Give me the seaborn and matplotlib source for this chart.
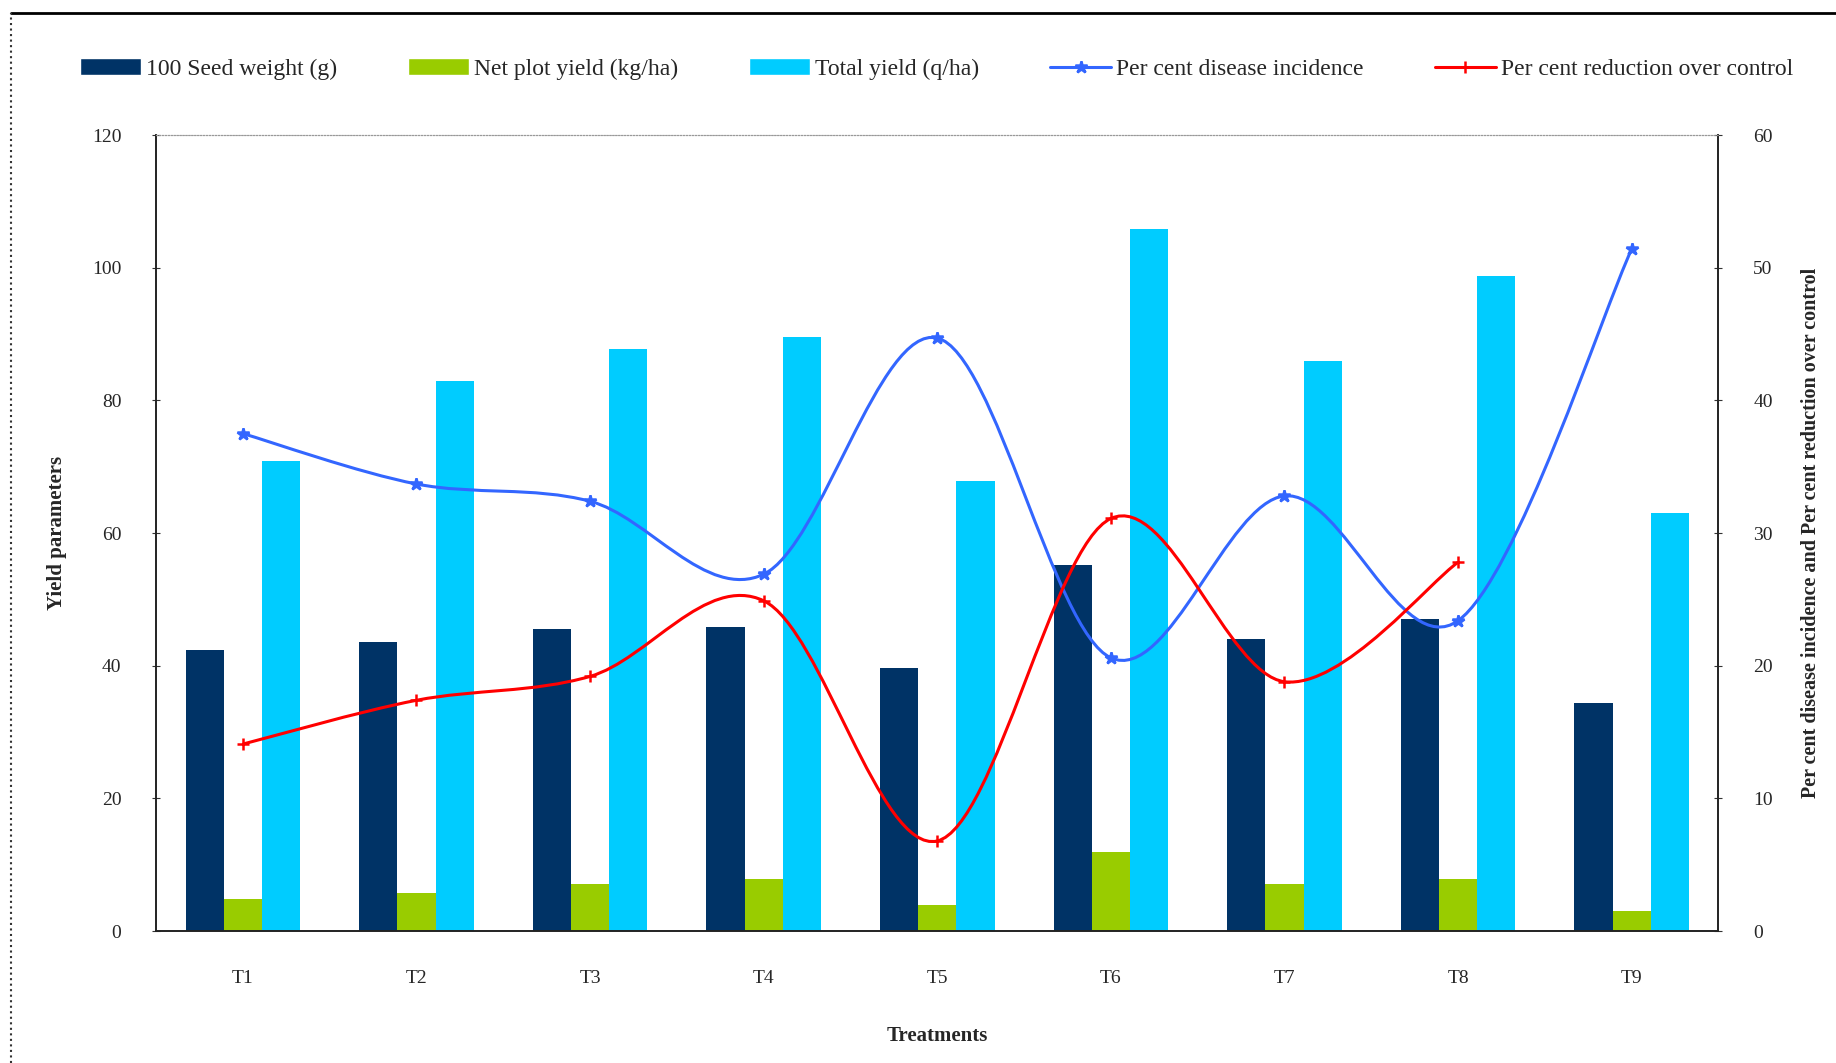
import numpy as np
import pandas as pd
import matplotlib.pyplot as plt
import seaborn as sns
from matplotlib.path import Path
from matplotlib.patches import PathPatch, Patch
from matplotlib.lines import Line2D


treatments = ["T1", "T2", "T3", "T4", "T5", "T6", "T7", "T8", "T9"]
seed_weight = [42.4, 43.6, 45.5, 45.9, 39.7, 55.2, 44.1, 47.1, 34.4]
net_plot_yield = [4.9, 5.8, 7.1, 7.9, 3.9, 12.0, 7.1, 7.9, 3.0]
total_yield = [70.8, 82.9, 87.7, 89.6, 67.8, 105.9, 85.9, 98.8, 63.0]
disease_incidence = [37.5, 33.7, 32.4, 26.9, 44.7, 20.6, 32.8, 23.4, 51.4]
reduction_over_control = [14.1, 17.4, 19.2, 24.9, 6.8, 31.1, 18.8, 27.8]

bar_names = ["100 Seed weight (g)", "Net plot yield (kg/ha)", "Total yield (q/ha)"]
bar_colors = ["#003366", "#99CC00", "#00CCFF"]
line_names = ["Per cent disease incidence", "Per cent reduction over control"]
line_colors = ["#3366FF", "#FF0000"]

df = pd.DataFrame({
    "Treatment": treatments * 3,
    "Series": sum([[n] * len(treatments) for n in bar_names], []),
    "Value": seed_weight + net_plot_yield + total_yield,
})

sns.set_style("white")
plt.rcParams["font.family"] = ["Liberation Serif", "DejaVu Serif"]

fig = plt.figure(figsize=(18.36, 10.63), dpi=100)
ax = fig.add_axes([0.085, 0.124, 0.851, 0.749])

sns.barplot(data=df, x="Treatment", y="Value", hue="Series", palette=bar_colors,
            width=0.66, saturation=1, gap=0, linewidth=0, legend=False, ax=ax)
ax.set_ylim(0, 120)
ax.set_xlim(-0.5, len(treatments) - 0.5)
ax.set_yticks(range(0, 121, 20))
ax.set_xlabel("Treatments", fontsize=15, fontweight="bold", labelpad=28)
ax.set_ylabel("Yield parameters", fontsize=15, fontweight="bold", labelpad=18)
ax.tick_params(axis="x", length=0, pad=28, labelsize=14)
ax.set_xticks(np.arange(-0.5, len(treatments)), minor=True)
ax.tick_params(axis="x", which="minor", length=6, direction="inout", color="#333333")
ax.tick_params(axis="y", length=6, direction="inout", pad=22, labelsize=14, color="#333333")

ax2 = ax.twinx()
ax2.set_ylim(0, 60)
ax2.set_yticks(range(0, 61, 10))
ax2.tick_params(axis="y", length=6, direction="inout", pad=22, labelsize=14, color="#333333")
ax2.set_ylabel("Per cent disease incidence and Per cent reduction over control",
               fontsize=14.5, fontweight="bold", labelpad=20, rotation=90)


def smooth_path(xs, ys):
    pts = np.column_stack([xs, ys]).astype(float)
    verts = [pts[0]]
    codes = [Path.MOVETO]
    n = len(pts)
    for i in range(n - 1):
        p0 = pts[i - 1] if i > 0 else pts[i]
        p1, p2 = pts[i], pts[i + 1]
        p3 = pts[i + 2] if i + 2 < n else pts[i + 1]
        verts += [p1 + (p2 - p0) / 6, p2 - (p3 - p1) / 6, p2]
        codes += [Path.CURVE4] * 3
    return Path(verts, codes)


markers = ["*", "+"]
for vals, color, mk in zip([disease_incidence, reduction_over_control], line_colors, markers):
    xs = np.arange(len(vals))
    ax2.add_patch(PathPatch(smooth_path(xs, vals), facecolor="none", edgecolor=color, lw=2.2, zorder=4))
    ax2.plot(xs, vals, linestyle="none", marker=mk, color=color, markersize=9, mew=1.8, zorder=5)

for a in (ax, ax2):
    for s in ("left", "right", "bottom"):
        a.spines[s].set_color("#222222")
        a.spines[s].set_linewidth(1.2)
    a.spines["top"].set_color("#999999")
    a.spines["top"].set_linestyle(":")

handles = [Patch(facecolor=c, label=n) for c, n in zip(bar_colors, bar_names)]
handles += [Line2D([], [], color=c, marker=m, lw=2.2, markersize=9, mew=1.8, label=n)
            for c, m, n in zip(line_colors, markers, line_names)]
fig.legend(handles=handles, loc="center", bbox_to_anchor=(0.51, 0.935), ncol=5,
           frameon=False, fontsize=17, handlelength=2.6, handleheight=0.7,
           columnspacing=3.0, handletextpad=0.2)

fig.add_artist(Line2D([0.006, 1.0], [0.988, 0.988], color="black", lw=2))
fig.add_artist(Line2D([0.006, 0.006], [0.0, 0.988], color="#333333", lw=1.5, linestyle=":"))

fig.savefig("out.png", dpi=100)
